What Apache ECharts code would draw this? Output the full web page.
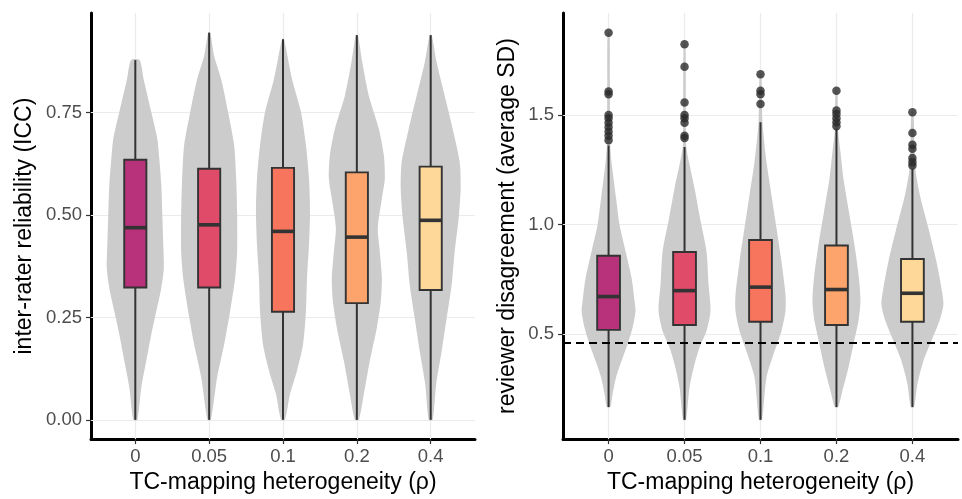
<!DOCTYPE html>
<html>
<head>
<meta charset="utf-8">
<script src="https://cdn.jsdelivr.net/npm/echarts@6/dist/echarts.min.js"></script>
<style>
html,body{margin:0;padding:0;background:#fff;}
#chart{width:962px;height:499px;}
</style>
</head>
<body>
<div id="chart"></div>
<script>
// ---------- DATA ----------
const categories = ['0', '0.05', '0.1', '0.2', '0.4'];

const iccTicks = [0, 0.25, 0.5, 0.75];
const iccTickLabels = ['0.00', '0.25', '0.50', '0.75'];
const sdTicks = [0.5, 1.0, 1.5];
const sdTickLabels = ['0.5', '1.0', '1.5'];

// Left panel: inter-rater reliability (ICC) box statistics
const iccLow    = [0.000, 0.000, 0.000, 0.000, 0.000];
const iccQ1     = [0.323, 0.323, 0.264, 0.285, 0.317];
const iccMedian = [0.469, 0.476, 0.460, 0.446, 0.487];
const iccQ3     = [0.635, 0.613, 0.615, 0.604, 0.618];
const iccHigh   = [0.878, 0.945, 0.929, 0.939, 0.939];

// Left panel violin profiles: [value, half-width in category units]
const iccViolin0    = [[0,0.027],[0.079,0.081],[0.144,0.149],[0.209,0.217],[0.265,0.284],[0.322,0.352],[0.37,0.386],[0.427,0.379],[0.5,0.366],[0.573,0.352],[0.637,0.325],[0.686,0.298],[0.751,0.217],[0.832,0.112],[0.878,0.058]];
const iccViolin005  = [[0,0.023],[0.104,0.108],[0.184,0.203],[0.265,0.284],[0.346,0.352],[0.411,0.379],[0.5,0.379],[0.589,0.366],[0.67,0.339],[0.751,0.257],[0.832,0.162],[0.888,0.068],[0.945,0.014]];
const iccViolin01   = [[0,0.027],[0.063,0.095],[0.12,0.19],[0.184,0.271],[0.265,0.311],[0.346,0.325],[0.427,0.352],[0.508,0.366],[0.589,0.352],[0.67,0.311],[0.751,0.244],[0.832,0.122],[0.929,0.014]];
const iccViolin02   = [[0,0.027],[0.063,0.095],[0.144,0.176],[0.225,0.271],[0.29,0.325],[0.346,0.339],[0.411,0.311],[0.468,0.284],[0.54,0.339],[0.589,0.379],[0.645,0.366],[0.71,0.298],[0.791,0.162],[0.872,0.074],[0.939,0.014]];
const iccViolin04   = [[0,0.027],[0.087,0.074],[0.168,0.149],[0.249,0.217],[0.33,0.284],[0.411,0.325],[0.492,0.379],[0.565,0.406],[0.629,0.393],[0.71,0.298],[0.791,0.19],[0.872,0.081],[0.939,0.014]];

// Right panel: reviewer disagreement (average SD) box statistics
const sdLow    = [0.168, 0.110, 0.110, 0.168, 0.168];
const sdQ1     = [0.520, 0.542, 0.557, 0.542, 0.557];
const sdMedian = [0.672, 0.699, 0.715, 0.704, 0.687];
const sdQ3     = [0.858, 0.875, 0.930, 0.905, 0.843];
const sdHigh   = [1.361, 1.354, 1.467, 1.437, 1.255];

const sdOutliers0   = [1.875, 1.607, 1.595, 1.500, 1.485, 1.465, 1.445, 1.425, 1.405, 1.385];
const sdOutliers005 = [1.822, 1.720, 1.557, 1.500, 1.485, 1.465, 1.405, 1.395];
const sdOutliers01  = [1.686, 1.610, 1.595, 1.550];
const sdOutliers02  = [1.610, 1.520, 1.505, 1.485, 1.467, 1.449];
const sdOutliers04  = [1.512, 1.418, 1.364, 1.346, 1.304, 1.285, 1.270];

const sdViolin0   = [[0.168,0.022],[0.228,0.053],[0.304,0.099],[0.379,0.171],[0.455,0.25],[0.53,0.316],[0.606,0.355],[0.651,0.342],[0.757,0.303],[0.878,0.224],[0.998,0.145],[1.119,0.099],[1.21,0.066],[1.285,0.039],[1.361,0.022],[1.663,0.017],[1.875,0.013]];
const sdViolin005 = [[0.11,0.02],[0.258,0.066],[0.364,0.132],[0.44,0.197],[0.515,0.289],[0.606,0.342],[0.727,0.316],[0.878,0.289],[1.029,0.204],[1.165,0.132],[1.285,0.059],[1.361,0.022],[1.822,0.013]];
const sdViolin01  = [[0.11,0.02],[0.304,0.079],[0.409,0.171],[0.515,0.276],[0.606,0.329],[0.681,0.329],[0.832,0.276],[0.983,0.211],[1.134,0.145],[1.285,0.079],[1.467,0.026],[1.686,0.013]];
const sdViolin02  = [[0.168,0.022],[0.243,0.079],[0.349,0.158],[0.455,0.224],[0.56,0.289],[0.651,0.316],[0.757,0.296],[0.908,0.237],[1.059,0.164],[1.21,0.092],[1.331,0.053],[1.437,0.02],[1.61,0.013]];
const sdViolin04  = [[0.168,0.022],[0.273,0.066],[0.379,0.145],[0.47,0.25],[0.56,0.355],[0.636,0.408],[0.711,0.382],[0.832,0.316],[0.983,0.211],[1.134,0.099],[1.255,0.039],[1.512,0.013]];

const sdReference = 0.462;

// ---------- BUILD ----------
const boxColors = ['#B7327A', '#E04B6A', '#F7755C', '#FCA46C', '#FDD898'];
const FONT = "'Liberation Sans', Arial, sans-serif";
const catPos = categories.map((c, i) => i + 1);

const iccViolins = [iccViolin0, iccViolin005, iccViolin01, iccViolin02, iccViolin04];
const sdViolins = [sdViolin0, sdViolin005, sdViolin01, sdViolin02, sdViolin04];
const sdOutliers = [sdOutliers0, sdOutliers005, sdOutliers01, sdOutliers02, sdOutliers04];

function violinSeries(profiles, gi) {
  return {
    type: 'custom', xAxisIndex: gi, yAxisIndex: gi, z: 2, silent: true,
    data: profiles.map((p, i) => [i + 1, p[0][0], p[p.length - 1][0]]),
    encode: { x: 0, y: [1, 2] },
    renderItem: function (params, api) {
      const prof = profiles[params.dataIndex];
      const x = api.value(0);
      const unit = api.size([1, 0])[0];
      const right = prof.map(function (d) { const p = api.coord([x, d[0]]); return [p[0] + d[1] * unit, p[1]]; });
      const left = prof.slice().reverse().map(function (d) { const p = api.coord([x, d[0]]); return [p[0] - d[1] * unit, p[1]]; });
      return { type: 'polygon', shape: { points: right.concat(left), smooth: 0.25 }, style: { fill: '#CCCCCC' } };
    }
  };
}

function boxSeries(lo, q1, med, q3, hi, gi) {
  return {
    type: 'custom', xAxisIndex: gi, yAxisIndex: gi, z: 3, silent: true,
    data: categories.map((c, i) => [i + 1, lo[i], q1[i], med[i], q3[i], hi[i]]),
    encode: { x: 0, y: [1, 2, 3, 4, 5] },
    renderItem: function (params, api) {
      const x = api.value(0);
      const pLo = api.coord([x, api.value(1)]);
      const pQ1 = api.coord([x, api.value(2)]);
      const pMed = api.coord([x, api.value(3)]);
      const pQ3 = api.coord([x, api.value(4)]);
      const pHi = api.coord([x, api.value(5)]);
      const bw = api.size([0.3, 0])[0];
      const col = boxColors[params.dataIndex];
      return {
        type: 'group',
        children: [
          { type: 'line', shape: { x1: pLo[0], y1: pLo[1], x2: pQ1[0], y2: pQ1[1] }, style: { stroke: '#333333', lineWidth: 2 } },
          { type: 'line', shape: { x1: pQ3[0], y1: pQ3[1], x2: pHi[0], y2: pHi[1] }, style: { stroke: '#333333', lineWidth: 2 } },
          { type: 'rect', shape: { x: pQ3[0] - bw / 2, y: pQ3[1], width: bw, height: pQ1[1] - pQ3[1] }, style: { fill: col, stroke: '#333333', lineWidth: 1.9 } },
          { type: 'line', shape: { x1: pMed[0] - bw / 2, y1: pMed[1], x2: pMed[0] + bw / 2, y2: pMed[1] }, style: { stroke: '#333333', lineWidth: 3.6 } }
        ]
      };
    }
  };
}

function gridLineSeries(ticks, gi) {
  return {
    type: 'line', xAxisIndex: gi, yAxisIndex: gi, data: [], silent: true,
    markLine: {
      z: 1, silent: true, symbol: 'none', animation: false,
      label: { show: false },
      lineStyle: { color: '#EBEBEB', width: 1.2, type: 'solid' },
      emphasis: { disabled: true },
      data: ticks.map(v => ({ yAxis: v })).concat(catPos.map(v => ({ xAxis: v })))
    }
  };
}

function xAxisDef(gi) {
  return {
    type: 'value', gridIndex: gi, min: 0.4, max: 5.6,
    name: 'TC-mapping heterogeneity (ρ)', nameLocation: 'middle', nameGap: 24,
    nameTextStyle: { fontSize: 23, color: '#000', fontFamily: FONT },
    axisLine: { show: true, onZero: false, lineStyle: { color: '#000', width: 3 } },
    axisTick: { show: true, customValues: catPos, length: 5, lineStyle: { color: '#333333', width: 1.2 } },
    axisLabel: { customValues: catPos, margin: 8, fontSize: 18.5, color: '#4D4D4D', fontFamily: FONT,
      formatter: v => categories[Math.round(v) - 1] },
    splitLine: { show: false }
  };
}

function yAxisDef(gi, min, max, ticks, labels, name, gap) {
  return {
    type: 'value', gridIndex: gi, min: min, max: max,
    name: name, nameLocation: 'middle', nameGap: gap,
    nameTextStyle: { fontSize: 23, color: '#000', fontFamily: FONT },
    axisLine: { show: true, onZero: false, lineStyle: { color: '#000', width: 3 } },
    axisTick: { show: true, customValues: ticks, length: 5, lineStyle: { color: '#333333', width: 1.2 } },
    axisLabel: { customValues: ticks, margin: 9, fontSize: 18.5, color: '#4D4D4D', fontFamily: FONT,
      formatter: v => { const k = ticks.findIndex(t => Math.abs(t - v) < 1e-9); return k >= 0 ? labels[k] : ''; } },
    splitLine: { show: false }
  };
}

const outlierData = [];
sdOutliers.forEach((arr, i) => arr.forEach(v => outlierData.push([i + 1, v])));

const option = {
  animation: false,
  backgroundColor: '#ffffff',
  textStyle: { fontFamily: FONT },
  grid: [
    { left: 91, right: 487, top: 13, bottom: 57 },
    { left: 563, right: 4, top: 13, bottom: 57 }
  ],
  xAxis: [xAxisDef(0), xAxisDef(1)],
  yAxis: [
    yAxisDef(0, -0.047, 0.993, iccTicks, iccTickLabels, 'inter-rater reliability (ICC)', 55),
    yAxisDef(1, 0.022, 1.965, sdTicks, sdTickLabels, 'reviewer disagreement (average SD)', 44)
  ],
  series: [
    gridLineSeries(iccTicks, 0),
    gridLineSeries(sdTicks, 1),
    violinSeries(iccViolins, 0),
    violinSeries(sdViolins, 1),
    boxSeries(iccLow, iccQ1, iccMedian, iccQ3, iccHigh, 0),
    boxSeries(sdLow, sdQ1, sdMedian, sdQ3, sdHigh, 1),
    {
      type: 'scatter', xAxisIndex: 1, yAxisIndex: 1, z: 4, silent: true,
      symbol: 'circle', symbolSize: 8.5,
      itemStyle: { color: '#2B2B2B' },
      data: outlierData,
      markLine: {
        z: 10, silent: true, symbol: 'none', animation: false,
        label: { show: false },
        lineStyle: { color: '#000', width: 2, type: [8, 5] },
        emphasis: { disabled: true },
        data: [{ yAxis: sdReference }]
      }
    }
  ]
};

const chart = echarts.init(document.getElementById('chart'), null, { renderer: 'canvas' });
chart.setOption(option);
</script>
</body>
</html>
